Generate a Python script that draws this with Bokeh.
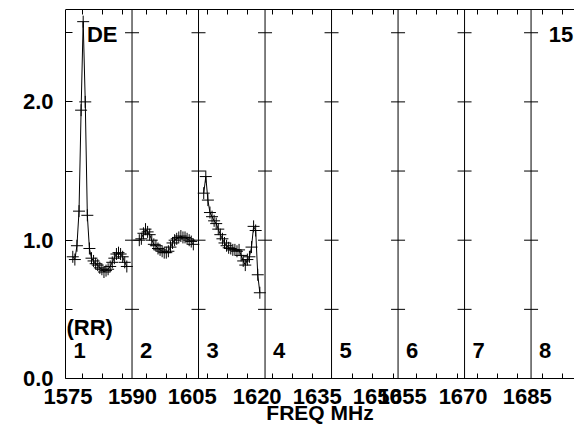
from bokeh.plotting import figure
from bokeh.models import Range1d, LinearAxis, FixedTicker, NumeralTickFormatter, ColumnDataSource
from bokeh.core.properties import value
from bokeh.embed import file_html
from bokeh.resources import INLINE

nan = float("nan")

# ---- data -------------------------------------------------------------
N_CH = 32                      # channels per IF panel
N_IF = 8
if_names = ["1", "2", "3", "4", "5", "6", "7", "8"]

# amplitude per channel (NaN = flagged / no data)
if1_amp = [nan, nan, nan, 0.88, 0.86, 0.96, 1.21, 1.94, 2.58, 2.00, 1.18, 0.94,
           0.87, 0.85, 0.83, 0.82, 0.80, 0.79, 0.77, 0.78, 0.79, 0.81, 0.84,
           0.87, 0.90, 0.91, 0.90, 0.88, 0.84, 0.81, nan, nan]
if2_amp = [nan, nan, nan, 1.00, 1.01, 1.05, 1.08, 1.06, 1.04, 1.00, 0.97, 0.96,
           0.94, 0.93, 0.92, 0.91, 0.91, 0.92, 0.95, 0.98, 1.00, 1.01, 1.02,
           1.03, 1.02, 1.02, 1.01, 1.00, 0.99, 0.97, nan, nan]
if3_amp = [nan, nan, 1.34, 1.46, 1.29, 1.20, 1.17, 1.14, 1.12, 1.08, 1.04, 1.01,
           0.98, 0.96, 0.945, 0.94, 0.93, 0.93, 0.92, 0.93, 0.89, 0.85, 0.82,
           0.86, 0.88, 0.95, 1.10, 1.07, 0.75, 0.62, nan, nan]
amps = [if1_amp, if2_amp, if3_amp]

# frequency tick labels and their positions (in channel units)
freq_labels = ["1575", "1590", "1605", "1620", "1635", "1650", "1655", "1670", "1685"]
freq_pos = [1.2, 32.2, 61.0, 92.2, 121.1, 150.0, 162.0, 191.3, 222.2]
minor_pos = [8.0, 17.7, 27.3, 38.8, 48.5, 58.1, 68.2, 77.8, 87.4, 99.5, 109.1,
             118.7, 138.0, 147.6, 157.7, 168.9, 178.5, 188.5, 198.1, 207.7,
             217.4, 229.4, 239.0]
y_major = [0.0, 1.0, 2.0]
y_minor = [0.5, 1.5, 2.5]
source_name = "DE"
stokes = "(RR)"
baseline_id = "15"
x_title = "FREQ MHz"

FONT = "Liberation Sans"
FS = "22px"

X_START = -31.28    # room left of the first panel for the amplitude labels
X_END = 244.9
Y_START = -0.3326   # room below zero for the frequency labels
Y_END = 2.668

p = figure(width=574, height=424, output_backend="svg", toolbar_location=None,
           x_range=Range1d(X_START, X_END), y_range=Range1d(Y_START, Y_END),
           min_border_left=0, min_border_right=0, min_border_top=9,
           min_border_bottom=0, x_axis_location=None, y_axis_location=None)
p.outline_line_color = None
p.xgrid.visible = False
p.ygrid.visible = False
p.background_fill_color = "white"
p.border_fill_color = "white"

# left axis, drawn at x = 0
ya = LinearAxis(ticker=FixedTicker(ticks=y_major, minor_ticks=y_minor),
                formatter=NumeralTickFormatter(format="0.0"),
                bounds=(0, Y_END), fixed_location=0)
ya.major_tick_in = 7
ya.major_tick_out = 0
ya.minor_tick_in = 7
ya.minor_tick_out = 0
ya.major_label_standoff = 12
ya.major_label_text_font = FONT
ya.major_label_text_font_size = FS
ya.major_label_text_font_style = "bold"
ya.major_label_text_color = "black"
ya.axis_line_color = "black"
ya.major_tick_line_color = "black"
ya.minor_tick_line_color = "black"
p.add_layout(ya, "left")

# bottom axis, drawn at y = 0
xa = LinearAxis(ticker=FixedTicker(ticks=freq_pos, minor_ticks=minor_pos),
                bounds=(0, X_END), fixed_location=0)
xa.major_label_overrides = {pos: lab for pos, lab in zip(freq_pos, freq_labels)}
xa.major_tick_in = 0
xa.major_tick_out = 0
xa.minor_tick_in = 5
xa.minor_tick_out = 0
xa.major_label_standoff = 11
xa.major_label_text_font = FONT
xa.major_label_text_font_size = FS
xa.major_label_text_font_style = "bold"
xa.major_label_text_color = "black"
xa.axis_label = x_title
xa.axis_label_standoff = -7
xa.axis_label_text_font = FONT
xa.axis_label_text_font_size = "21px"
xa.axis_label_text_font_style = "bold"
xa.axis_label_text_color = "black"
xa.axis_line_color = "black"
xa.minor_tick_line_color = "black"
p.add_layout(xa, "below")

# top axis (line + minor ticks only)
ta = LinearAxis(ticker=FixedTicker(ticks=[], minor_ticks=minor_pos), bounds=(0, X_END))
ta.major_tick_in = 0
ta.major_tick_out = 0
ta.minor_tick_in = 5
ta.minor_tick_out = 0
ta.major_label_standoff = 0
ta.axis_line_color = "black"
ta.minor_tick_line_color = "black"
p.add_layout(ta, "above")

# panel boundaries
bounds = [i * N_CH for i in range(1, N_IF)]
p.segment(x0=bounds, y0=[0] * len(bounds), x1=bounds, y1=[Y_END] * len(bounds),
          line_color="black", line_width=1)
bx, by = [], []
for b in bounds:
    for yv in y_major[1:] + y_minor:
        bx.append(b)
        by.append(yv)
p.scatter(x=bx, y=by, marker="dash", size=14, line_color="black", line_width=1)

# spectra
for i, amp in enumerate(amps):
    xs = [i * N_CH + c + 0.5 for c in range(N_CH)]
    src = ColumnDataSource(dict(x=xs, y=amp))
    p.line("x", "y", source=src, line_color="black", line_width=1)
    p.scatter("x", "y", source=src, marker="cross", size=12, line_color="black", line_width=1)

# panel numbers and annotations
p.text(x=[i * N_CH for i in range(N_IF)], y=[0.20] * N_IF, text=if_names,
       x_offset=8, text_font=value(FONT), text_font_size=FS, text_font_style="bold",
       text_color="black", text_baseline="alphabetic", text_align="left")
p.text(x=[0], y=[0.37], text=[stokes], x_offset=1,
       text_font=value(FONT), text_font_size=FS, text_font_style="bold",
       text_color="black", text_baseline="alphabetic", text_align="left")
p.text(x=[10.3, 232.5], y=[2.49, 2.49], text=[source_name, baseline_id],
       text_font=value(FONT), text_font_size=FS, text_font_style="bold",
       text_color="black", text_baseline="alphabetic", text_align="left")

open("out.html", "w").write(file_html(p, INLINE))
